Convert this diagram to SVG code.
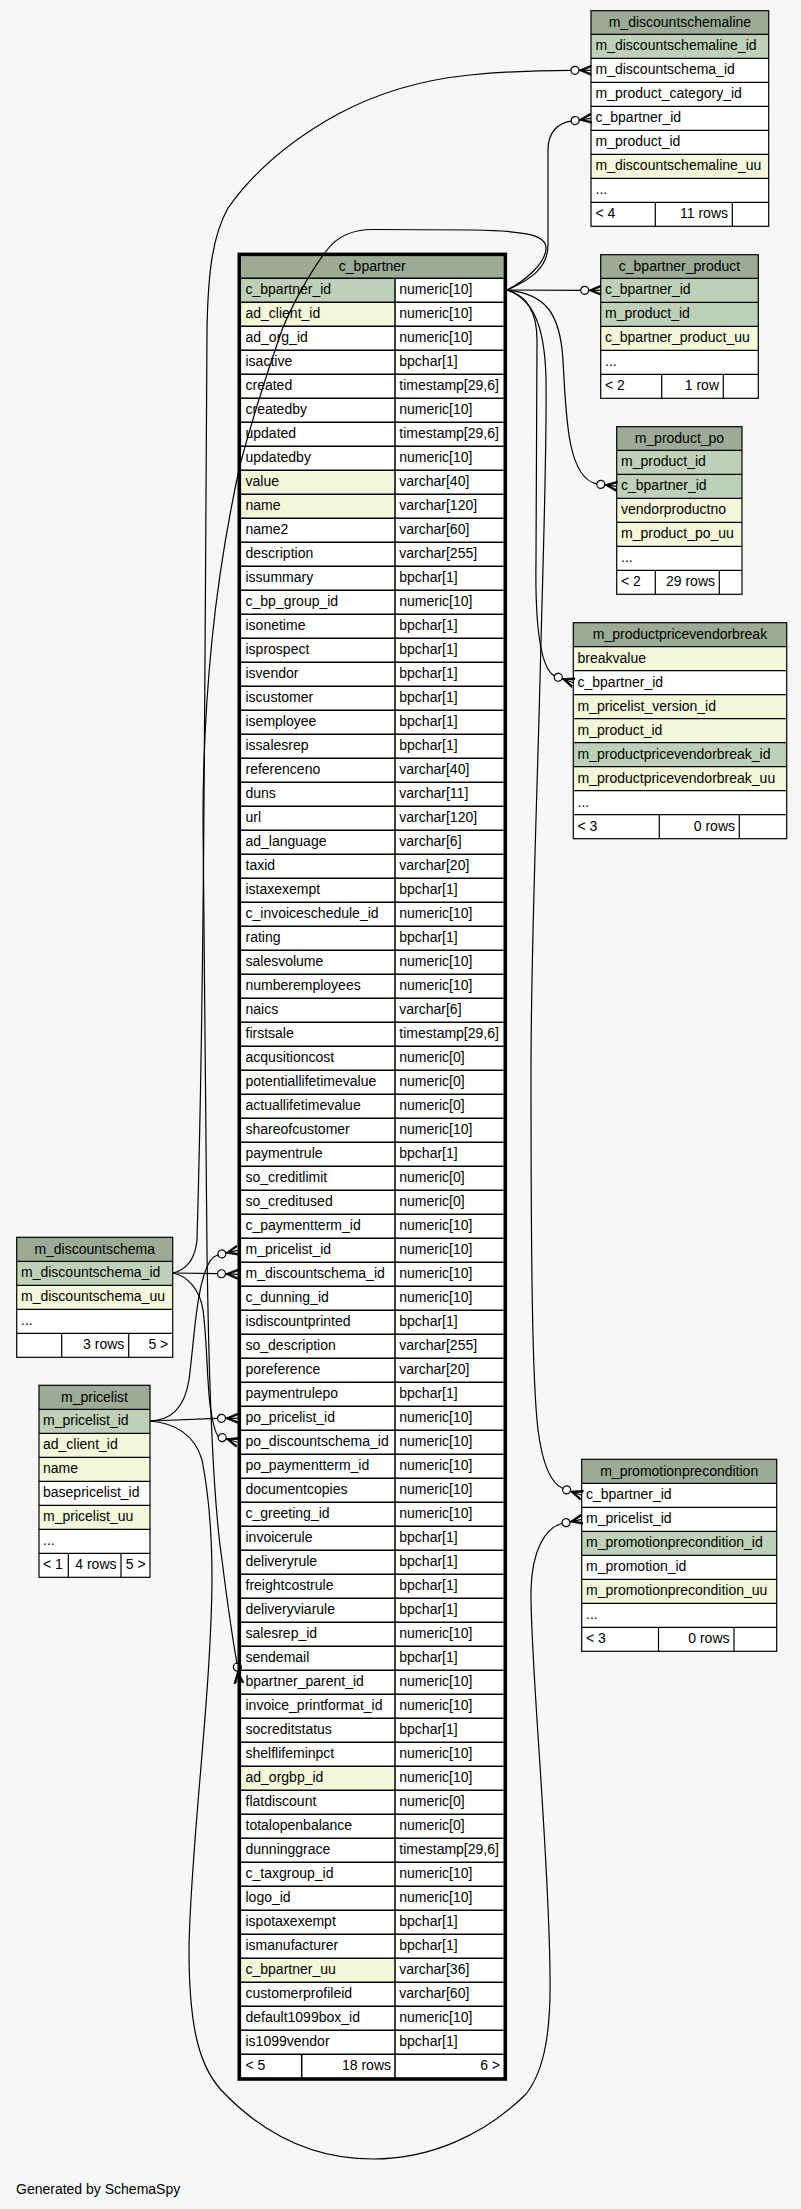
<svg xmlns="http://www.w3.org/2000/svg" xmlns:xlink="http://www.w3.org/1999/xlink" width="801" height="2209" viewBox="0 0 801 2209">
<style>
text{font-family:"Liberation Sans",Arial,Helvetica,sans-serif;font-size:14px;fill:#000}
.c{text-anchor:middle}
.r{text-anchor:end}
.h{fill:#9bab96}
.pk{fill:#bed1b8}
.ix{fill:#f4f7da}
.w{fill:#ffffff}
.ln{fill:none;stroke:#000;stroke-width:1.2}
.ol{fill:none;stroke:#000;stroke-width:1.2}
.lnb{fill:none;stroke:#000;stroke-width:1.5}
.olb{fill:none;stroke:#000;stroke-width:3.6}
.e{fill:none;stroke:#000;stroke-width:1.2}
</style>
<defs>
<g id="cf">
<circle cx="-16" cy="0" r="4" fill="none" stroke="#000" stroke-width="1.2"/>
<path d="M-12,0 L0,-5 L0,-3.2 L-8.5,0 L0,3.2 L0,5 Z" fill="#000" stroke="#000" stroke-width="0.8"/>
<path d="M-12,0 L0,0" stroke="#000" stroke-width="1.2"/>
</g>
</defs>
<rect x="0" y="0" width="801" height="2209" fill="#f7f7f7"/>

<g id="m_discountschemaline">
<rect class="h" x="591" y="10.7" width="177.7" height="23.6"/>
<rect class="pk" x="591" y="34.3" width="177.7" height="24"/>
<rect class="w" x="591" y="58.3" width="177.7" height="96"/>
<rect class="ix" x="591" y="154.3" width="177.7" height="24"/>
<rect class="w" x="591" y="178.3" width="177.7" height="48"/>
<path class="ln" d="M591,34.3H768.7M591,58.3H768.7M591,82.3H768.7M591,106.3H768.7M591,130.3H768.7M591,154.3H768.7M591,178.3H768.7M591,202.3H768.7M655.3,202.3V226.3M732.3,202.3V226.3"/>
<rect class="ol" x="591" y="10.7" width="177.7" height="215.6"/>
<text class="c" x="679.9" y="27.2">m_discountschemaline</text>
<text x="595.5" y="50.3">m_discountschemaline_id</text>
<text x="595.5" y="74.3">m_discountschema_id</text>
<text x="595.5" y="98.3">m_product_category_id</text>
<text x="595.5" y="122.3">c_bpartner_id</text>
<text x="595.5" y="146.3">m_product_id</text>
<text x="595.5" y="170.3">m_discountschemaline_uu</text>
<text x="595.5" y="194.3">...</text>
<text x="595.5" y="218.3">&lt; 4</text>
<text class="r" x="728" y="218.3">11 rows</text>
</g>

<g id="c_bpartner_product">
<rect class="h" x="600.7" y="254.7" width="157.6" height="23.6"/>
<rect class="pk" x="600.7" y="278.3" width="157.6" height="48"/>
<rect class="ix" x="600.7" y="326.3" width="157.6" height="24"/>
<rect class="w" x="600.7" y="350.3" width="157.6" height="48"/>
<path class="ln" d="M600.7,278.3H758.3M600.7,302.3H758.3M600.7,326.3H758.3M600.7,350.3H758.3M600.7,374.3H758.3M661.7,374.3V398.3M723.3,374.3V398.3"/>
<rect class="ol" x="600.7" y="254.7" width="157.6" height="143.6"/>
<text class="c" x="679.5" y="271.2">c_bpartner_product</text>
<text x="605" y="294.3">c_bpartner_id</text>
<text x="605" y="318.3">m_product_id</text>
<text x="605" y="342.3">c_bpartner_product_uu</text>
<text x="605" y="366.3">...</text>
<text x="605" y="390.3">&lt; 2</text>
<text class="r" x="719" y="390.3">1 row</text>
</g>

<g id="m_product_po">
<rect class="h" x="616.7" y="426.7" width="125.3" height="23.6"/>
<rect class="pk" x="616.7" y="450.3" width="125.3" height="48"/>
<rect class="ix" x="616.7" y="498.3" width="125.3" height="48"/>
<rect class="w" x="616.7" y="546.3" width="125.3" height="48"/>
<path class="ln" d="M616.7,450.3H742M616.7,474.3H742M616.7,498.3H742M616.7,522.3H742M616.7,546.3H742M616.7,570.3H742M655.3,570.3V594.3M719.3,570.3V594.3"/>
<rect class="ol" x="616.7" y="426.7" width="125.3" height="167.6"/>
<text class="c" x="679.4" y="443.2">m_product_po</text>
<text x="621" y="466.3">m_product_id</text>
<text x="621" y="490.3">c_bpartner_id</text>
<text x="621" y="514.3">vendorproductno</text>
<text x="621" y="538.3">m_product_po_uu</text>
<text x="621" y="562.3">...</text>
<text x="621" y="586.3">&lt; 2</text>
<text class="r" x="715" y="586.3">29 rows</text>
</g>

<g id="m_productpricevendorbreak">
<rect class="h" x="573.3" y="622.7" width="213.4" height="24"/>
<rect class="ix" x="573.3" y="646.7" width="213.4" height="24"/>
<rect class="w" x="573.3" y="670.7" width="213.4" height="24"/>
<rect class="ix" x="573.3" y="694.7" width="213.4" height="48"/>
<rect class="pk" x="573.3" y="742.7" width="213.4" height="24"/>
<rect class="ix" x="573.3" y="766.7" width="213.4" height="24"/>
<rect class="w" x="573.3" y="790.7" width="213.4" height="48"/>
<path class="ln" d="M573.3,646.7H786.7M573.3,670.7H786.7M573.3,694.7H786.7M573.3,718.7H786.7M573.3,742.7H786.7M573.3,766.7H786.7M573.3,790.7H786.7M573.3,814.7H786.7M659.3,814.7V838.7M739.3,814.7V838.7"/>
<rect class="ol" x="573.3" y="622.7" width="213.4" height="216"/>
<text class="c" x="680" y="639.2">m_productpricevendorbreak</text>
<text x="577.5" y="662.7">breakvalue</text>
<text x="577.5" y="686.7">c_bpartner_id</text>
<text x="577.5" y="710.7">m_pricelist_version_id</text>
<text x="577.5" y="734.7">m_product_id</text>
<text x="577.5" y="758.7">m_productpricevendorbreak_id</text>
<text x="577.5" y="782.7">m_productpricevendorbreak_uu</text>
<text x="577.5" y="806.7">...</text>
<text x="577.5" y="830.7">&lt; 3</text>
<text class="r" x="735" y="830.7">0 rows</text>
</g>

<g id="m_discountschema">
<rect class="h" x="16.7" y="1237.3" width="156" height="24"/>
<rect class="pk" x="16.7" y="1261.3" width="156" height="24"/>
<rect class="ix" x="16.7" y="1285.3" width="156" height="24"/>
<rect class="w" x="16.7" y="1309.3" width="156" height="48"/>
<path class="ln" d="M16.7,1261.3H172.7M16.7,1285.3H172.7M16.7,1309.3H172.7M16.7,1333.3H172.7M61.7,1333.3V1357.3M128.7,1333.3V1357.3"/>
<rect class="ol" x="16.7" y="1237.3" width="156" height="120"/>
<text class="c" x="94.7" y="1253.8">m_discountschema</text>
<text x="21" y="1277.3">m_discountschema_id</text>
<text x="21" y="1301.3">m_discountschema_uu</text>
<text x="21" y="1325.3">...</text>
<text class="r" x="124.3" y="1349.3">3 rows</text>
<text class="r" x="168.3" y="1349.3">5 &gt;</text>
</g>

<g id="m_pricelist">
<rect class="h" x="39" y="1385.3" width="111" height="24"/>
<rect class="pk" x="39" y="1409.3" width="111" height="24"/>
<rect class="ix" x="39" y="1433.3" width="111" height="48"/>
<rect class="w" x="39" y="1481.3" width="111" height="24"/>
<rect class="ix" x="39" y="1505.3" width="111" height="24"/>
<rect class="w" x="39" y="1529.3" width="111" height="48"/>
<path class="ln" d="M39,1409.3H150M39,1433.3H150M39,1457.3H150M39,1481.3H150M39,1505.3H150M39,1529.3H150M39,1553.3H150M68.3,1553.3V1577.3M121,1553.3V1577.3"/>
<rect class="ol" x="39" y="1385.3" width="111" height="192"/>
<text class="c" x="94.5" y="1401.8">m_pricelist</text>
<text x="43" y="1425.3">m_pricelist_id</text>
<text x="43" y="1449.3">ad_client_id</text>
<text x="43" y="1473.3">name</text>
<text x="43" y="1497.3">basepricelist_id</text>
<text x="43" y="1521.3">m_pricelist_uu</text>
<text x="43" y="1545.3">...</text>
<text x="43" y="1569.3">&lt; 1</text>
<text class="r" x="116.5" y="1569.3">4 rows</text>
<text class="r" x="145.7" y="1569.3">5 &gt;</text>
</g>

<g id="m_promotionprecondition">
<rect class="h" x="581.7" y="1459.3" width="195" height="24"/>
<rect class="w" x="581.7" y="1483.3" width="195" height="48"/>
<rect class="pk" x="581.7" y="1531.3" width="195" height="24"/>
<rect class="w" x="581.7" y="1555.3" width="195" height="24"/>
<rect class="ix" x="581.7" y="1579.3" width="195" height="24"/>
<rect class="w" x="581.7" y="1603.3" width="195" height="48"/>
<path class="ln" d="M581.7,1483.3H776.7M581.7,1507.3H776.7M581.7,1531.3H776.7M581.7,1555.3H776.7M581.7,1579.3H776.7M581.7,1603.3H776.7M581.7,1627.3H776.7M658.5,1627.3V1651.3M734,1627.3V1651.3"/>
<rect class="ol" x="581.7" y="1459.3" width="195" height="192"/>
<text class="c" x="679.2" y="1475.8">m_promotionprecondition</text>
<text x="586" y="1499.3">c_bpartner_id</text>
<text x="586" y="1523.3">m_pricelist_id</text>
<text x="586" y="1547.3">m_promotionprecondition_id</text>
<text x="586" y="1571.3">m_promotion_id</text>
<text x="586" y="1595.3">m_promotionprecondition_uu</text>
<text x="586" y="1619.3">...</text>
<text x="586" y="1643.3">&lt; 3</text>
<text class="r" x="729.5" y="1643.3">0 rows</text>
</g>

<g id="c_bpartner">
<rect class="h" x="241.3" y="256.2" width="262" height="22.1"/>
<rect class="w" x="241.3" y="278.3" width="262" height="1800"/>
<rect class="pk" x="241.3" y="278.3" width="153.7" height="24"/>
<rect class="ix" x="241.3" y="302.3" width="153.7" height="24"/>
<rect class="ix" x="241.3" y="470.3" width="153.7" height="48"/>
<rect class="ix" x="241.3" y="1766.3" width="153.7" height="24"/>
<rect class="ix" x="241.3" y="1958.3" width="153.7" height="24"/>
<path class="lnb" d="M241,278.3H503.5M241,302.3H503.5M241,326.3H503.5M241,350.3H503.5M241,374.3H503.5M241,398.3H503.5M241,422.3H503.5M241,446.3H503.5M241,470.3H503.5M241,494.3H503.5M241,518.3H503.5M241,542.3H503.5M241,566.3H503.5M241,590.3H503.5M241,614.3H503.5M241,638.3H503.5M241,662.3H503.5M241,686.3H503.5M241,710.3H503.5M241,734.3H503.5M241,758.3H503.5M241,782.3H503.5M241,806.3H503.5M241,830.3H503.5M241,854.3H503.5M241,878.3H503.5M241,902.3H503.5M241,926.3H503.5M241,950.3H503.5M241,974.3H503.5M241,998.3H503.5M241,1022.3H503.5M241,1046.3H503.5M241,1070.3H503.5M241,1094.3H503.5M241,1118.3H503.5M241,1142.3H503.5M241,1166.3H503.5M241,1190.3H503.5M241,1214.3H503.5M241,1238.3H503.5M241,1262.3H503.5M241,1286.3H503.5M241,1310.3H503.5M241,1334.3H503.5M241,1358.3H503.5M241,1382.3H503.5M241,1406.3H503.5M241,1430.3H503.5M241,1454.3H503.5M241,1478.3H503.5M241,1502.3H503.5M241,1526.3H503.5M241,1550.3H503.5M241,1574.3H503.5M241,1598.3H503.5M241,1622.3H503.5M241,1646.3H503.5M241,1670.3H503.5M241,1694.3H503.5M241,1718.3H503.5M241,1742.3H503.5M241,1766.3H503.5M241,1790.3H503.5M241,1814.3H503.5M241,1838.3H503.5M241,1862.3H503.5M241,1886.3H503.5M241,1910.3H503.5M241,1934.3H503.5M241,1958.3H503.5M241,1982.3H503.5M241,2006.3H503.5M241,2030.3H503.5M241,2054.3H503.5M395,278.3V2078.3M301.7,2054.3V2078.3"/>
<rect class="olb" x="239.3" y="254.4" width="266" height="1824.6"/>
<text class="c" x="372.3" y="271">c_bpartner</text>
<text><tspan x="245.5" y="294.3">c_bpartner_id</tspan><tspan x="245.5" dy="24">ad_client_id</tspan><tspan x="245.5" dy="24">ad_org_id</tspan><tspan x="245.5" dy="24">isactive</tspan><tspan x="245.5" dy="24">created</tspan><tspan x="245.5" dy="24">createdby</tspan><tspan x="245.5" dy="24">updated</tspan><tspan x="245.5" dy="24">updatedby</tspan><tspan x="245.5" dy="24">value</tspan><tspan x="245.5" dy="24">name</tspan><tspan x="245.5" dy="24">name2</tspan><tspan x="245.5" dy="24">description</tspan><tspan x="245.5" dy="24">issummary</tspan><tspan x="245.5" dy="24">c_bp_group_id</tspan><tspan x="245.5" dy="24">isonetime</tspan><tspan x="245.5" dy="24">isprospect</tspan><tspan x="245.5" dy="24">isvendor</tspan><tspan x="245.5" dy="24">iscustomer</tspan><tspan x="245.5" dy="24">isemployee</tspan><tspan x="245.5" dy="24">issalesrep</tspan><tspan x="245.5" dy="24">referenceno</tspan><tspan x="245.5" dy="24">duns</tspan><tspan x="245.5" dy="24">url</tspan><tspan x="245.5" dy="24">ad_language</tspan><tspan x="245.5" dy="24">taxid</tspan><tspan x="245.5" dy="24">istaxexempt</tspan><tspan x="245.5" dy="24">c_invoiceschedule_id</tspan><tspan x="245.5" dy="24">rating</tspan><tspan x="245.5" dy="24">salesvolume</tspan><tspan x="245.5" dy="24">numberemployees</tspan><tspan x="245.5" dy="24">naics</tspan><tspan x="245.5" dy="24">firstsale</tspan><tspan x="245.5" dy="24">acqusitioncost</tspan><tspan x="245.5" dy="24">potentiallifetimevalue</tspan><tspan x="245.5" dy="24">actuallifetimevalue</tspan><tspan x="245.5" dy="24">shareofcustomer</tspan><tspan x="245.5" dy="24">paymentrule</tspan><tspan x="245.5" dy="24">so_creditlimit</tspan><tspan x="245.5" dy="24">so_creditused</tspan><tspan x="245.5" dy="24">c_paymentterm_id</tspan><tspan x="245.5" dy="24">m_pricelist_id</tspan><tspan x="245.5" dy="24">m_discountschema_id</tspan><tspan x="245.5" dy="24">c_dunning_id</tspan><tspan x="245.5" dy="24">isdiscountprinted</tspan><tspan x="245.5" dy="24">so_description</tspan><tspan x="245.5" dy="24">poreference</tspan><tspan x="245.5" dy="24">paymentrulepo</tspan><tspan x="245.5" dy="24">po_pricelist_id</tspan><tspan x="245.5" dy="24">po_discountschema_id</tspan><tspan x="245.5" dy="24">po_paymentterm_id</tspan><tspan x="245.5" dy="24">documentcopies</tspan><tspan x="245.5" dy="24">c_greeting_id</tspan><tspan x="245.5" dy="24">invoicerule</tspan><tspan x="245.5" dy="24">deliveryrule</tspan><tspan x="245.5" dy="24">freightcostrule</tspan><tspan x="245.5" dy="24">deliveryviarule</tspan><tspan x="245.5" dy="24">salesrep_id</tspan><tspan x="245.5" dy="24">sendemail</tspan><tspan x="245.5" dy="24">bpartner_parent_id</tspan><tspan x="245.5" dy="24">invoice_printformat_id</tspan><tspan x="245.5" dy="24">socreditstatus</tspan><tspan x="245.5" dy="24">shelflifeminpct</tspan><tspan x="245.5" dy="24">ad_orgbp_id</tspan><tspan x="245.5" dy="24">flatdiscount</tspan><tspan x="245.5" dy="24">totalopenbalance</tspan><tspan x="245.5" dy="24">dunninggrace</tspan><tspan x="245.5" dy="24">c_taxgroup_id</tspan><tspan x="245.5" dy="24">logo_id</tspan><tspan x="245.5" dy="24">ispotaxexempt</tspan><tspan x="245.5" dy="24">ismanufacturer</tspan><tspan x="245.5" dy="24">c_bpartner_uu</tspan><tspan x="245.5" dy="24">customerprofileid</tspan><tspan x="245.5" dy="24">default1099box_id</tspan><tspan x="245.5" dy="24">is1099vendor</tspan><tspan x="245.5" dy="24">&lt; 5</tspan></text>
<text><tspan x="399.3" y="294.3">numeric[10]</tspan><tspan x="399.3" dy="24">numeric[10]</tspan><tspan x="399.3" dy="24">numeric[10]</tspan><tspan x="399.3" dy="24">bpchar[1]</tspan><tspan x="399.3" dy="24">timestamp[29,6]</tspan><tspan x="399.3" dy="24">numeric[10]</tspan><tspan x="399.3" dy="24">timestamp[29,6]</tspan><tspan x="399.3" dy="24">numeric[10]</tspan><tspan x="399.3" dy="24">varchar[40]</tspan><tspan x="399.3" dy="24">varchar[120]</tspan><tspan x="399.3" dy="24">varchar[60]</tspan><tspan x="399.3" dy="24">varchar[255]</tspan><tspan x="399.3" dy="24">bpchar[1]</tspan><tspan x="399.3" dy="24">numeric[10]</tspan><tspan x="399.3" dy="24">bpchar[1]</tspan><tspan x="399.3" dy="24">bpchar[1]</tspan><tspan x="399.3" dy="24">bpchar[1]</tspan><tspan x="399.3" dy="24">bpchar[1]</tspan><tspan x="399.3" dy="24">bpchar[1]</tspan><tspan x="399.3" dy="24">bpchar[1]</tspan><tspan x="399.3" dy="24">varchar[40]</tspan><tspan x="399.3" dy="24">varchar[11]</tspan><tspan x="399.3" dy="24">varchar[120]</tspan><tspan x="399.3" dy="24">varchar[6]</tspan><tspan x="399.3" dy="24">varchar[20]</tspan><tspan x="399.3" dy="24">bpchar[1]</tspan><tspan x="399.3" dy="24">numeric[10]</tspan><tspan x="399.3" dy="24">bpchar[1]</tspan><tspan x="399.3" dy="24">numeric[10]</tspan><tspan x="399.3" dy="24">numeric[10]</tspan><tspan x="399.3" dy="24">varchar[6]</tspan><tspan x="399.3" dy="24">timestamp[29,6]</tspan><tspan x="399.3" dy="24">numeric[0]</tspan><tspan x="399.3" dy="24">numeric[0]</tspan><tspan x="399.3" dy="24">numeric[0]</tspan><tspan x="399.3" dy="24">numeric[10]</tspan><tspan x="399.3" dy="24">bpchar[1]</tspan><tspan x="399.3" dy="24">numeric[0]</tspan><tspan x="399.3" dy="24">numeric[0]</tspan><tspan x="399.3" dy="24">numeric[10]</tspan><tspan x="399.3" dy="24">numeric[10]</tspan><tspan x="399.3" dy="24">numeric[10]</tspan><tspan x="399.3" dy="24">numeric[10]</tspan><tspan x="399.3" dy="24">bpchar[1]</tspan><tspan x="399.3" dy="24">varchar[255]</tspan><tspan x="399.3" dy="24">varchar[20]</tspan><tspan x="399.3" dy="24">bpchar[1]</tspan><tspan x="399.3" dy="24">numeric[10]</tspan><tspan x="399.3" dy="24">numeric[10]</tspan><tspan x="399.3" dy="24">numeric[10]</tspan><tspan x="399.3" dy="24">numeric[10]</tspan><tspan x="399.3" dy="24">numeric[10]</tspan><tspan x="399.3" dy="24">bpchar[1]</tspan><tspan x="399.3" dy="24">bpchar[1]</tspan><tspan x="399.3" dy="24">bpchar[1]</tspan><tspan x="399.3" dy="24">bpchar[1]</tspan><tspan x="399.3" dy="24">numeric[10]</tspan><tspan x="399.3" dy="24">bpchar[1]</tspan><tspan x="399.3" dy="24">numeric[10]</tspan><tspan x="399.3" dy="24">numeric[10]</tspan><tspan x="399.3" dy="24">bpchar[1]</tspan><tspan x="399.3" dy="24">numeric[10]</tspan><tspan x="399.3" dy="24">numeric[10]</tspan><tspan x="399.3" dy="24">numeric[0]</tspan><tspan x="399.3" dy="24">numeric[0]</tspan><tspan x="399.3" dy="24">timestamp[29,6]</tspan><tspan x="399.3" dy="24">numeric[10]</tspan><tspan x="399.3" dy="24">numeric[10]</tspan><tspan x="399.3" dy="24">bpchar[1]</tspan><tspan x="399.3" dy="24">bpchar[1]</tspan><tspan x="399.3" dy="24">varchar[36]</tspan><tspan x="399.3" dy="24">varchar[60]</tspan><tspan x="399.3" dy="24">numeric[10]</tspan><tspan x="399.3" dy="24">bpchar[1]</tspan></text>
<text class="r" x="391" y="2070.3">18 rows</text>
<text class="r" x="500" y="2070.3">6 &gt;</text>
</g>

<g id="connectors">
<path class="e" d="M507,290 C530,280 548,268 548,245 L548,150 C548,132 558,123 571.2,121.1"/>
<path class="e" d="M172.7,1273 C186,1270 195,1260 197,1240 C201,1100 203,950 204,800 C206,650 205,450 207,330 C208,270 213,235 228,208 C255,170 290,140 340,113 C380,92 420,80 470,75 C510,71 545,70.3 571,70.3"/>
<path class="e" d="M507,290 C527,280 546,262 546,248 C546,236 530,231 473,230 L373,229.5 C350,229.5 336,238 327,250 C310,272 292,305 282,330 C268,370 252,420 240,465 C228,520 218,580 212,640 C206,700 203,760 203,820 C203,950 205,1100 207,1250 C209,1400 213,1500 222,1560 C227,1600 232,1635 236.9,1663.1"/>
<path class="e" d="M507,290 L580.7,290.3"/>
<path class="e" d="M507,290 C545,294 560,312 563,360 C566,420 568,478 596.8,483.9"/>
<path class="e" d="M507,290 C526,295 537,310 537,340 L536,560 C535,625 540,668 554.5,675.9"/>
<path class="e" d="M507,290 C530,298 545,320 546,380 C547,450 543,560 540,680 C537,800 531,950 531,1070 C531,1250 532,1380 538,1430 C543,1468 552,1484 562.9,1488.5"/>
<path class="e" d="M150,1421 C175,1423 195,1435 202,1460 C208,1490 212,1530 212,1580 C211,1700 190,1850 189,1950 C189,2030 200,2070 225,2094 C270,2140 320,2159 373,2159 C430,2159 485,2135 526,2094 C545,2070 551,2030 550,1974 C549,1850 530,1660 531,1590 C532,1550 545,1528 562.1,1523.5"/>
<path class="e" d="M150,1421 C170,1420 184,1410 189,1380 C194,1340 196,1300 204,1275 C208,1262 212,1257 218,1254.8"/>
<path class="e" d="M172.7,1273 L217.5,1273.6"/>
<path class="e" d="M150,1421 L217.5,1418.3"/>
<path class="e" d="M172.7,1273 C188,1276 200,1290 203,1310 C207,1340 207,1380 210,1405 C213,1425 215,1433 218.4,1436.5"/>
<use xlink:href="#cf" transform="translate(591,118.3) rotate(-8)"/>
<use xlink:href="#cf" transform="translate(591,70.3)"/>
<use xlink:href="#cf" transform="translate(600.7,290.3)"/>
<use xlink:href="#cf" transform="translate(616.7,486.3) rotate(7)"/>
<use xlink:href="#cf" transform="translate(573.3,682.7) rotate(20)"/>
<use xlink:href="#cf" transform="translate(581.7,1495.3) rotate(20)"/>
<use xlink:href="#cf" transform="translate(581.7,1519.3) rotate(-12)"/>
<use xlink:href="#cf" transform="translate(237.5,1250.3) rotate(-13)"/>
<use xlink:href="#cf" transform="translate(237.5,1274.3) rotate(2)"/>
<use xlink:href="#cf" transform="translate(237.5,1418.3)"/>
<use xlink:href="#cf" transform="translate(237.5,1442.3) rotate(17)"/>
<use xlink:href="#cf" transform="translate(239,1683) rotate(84)"/>
</g>

<text x="16" y="2194">Generated by SchemaSpy</text>
</svg>
